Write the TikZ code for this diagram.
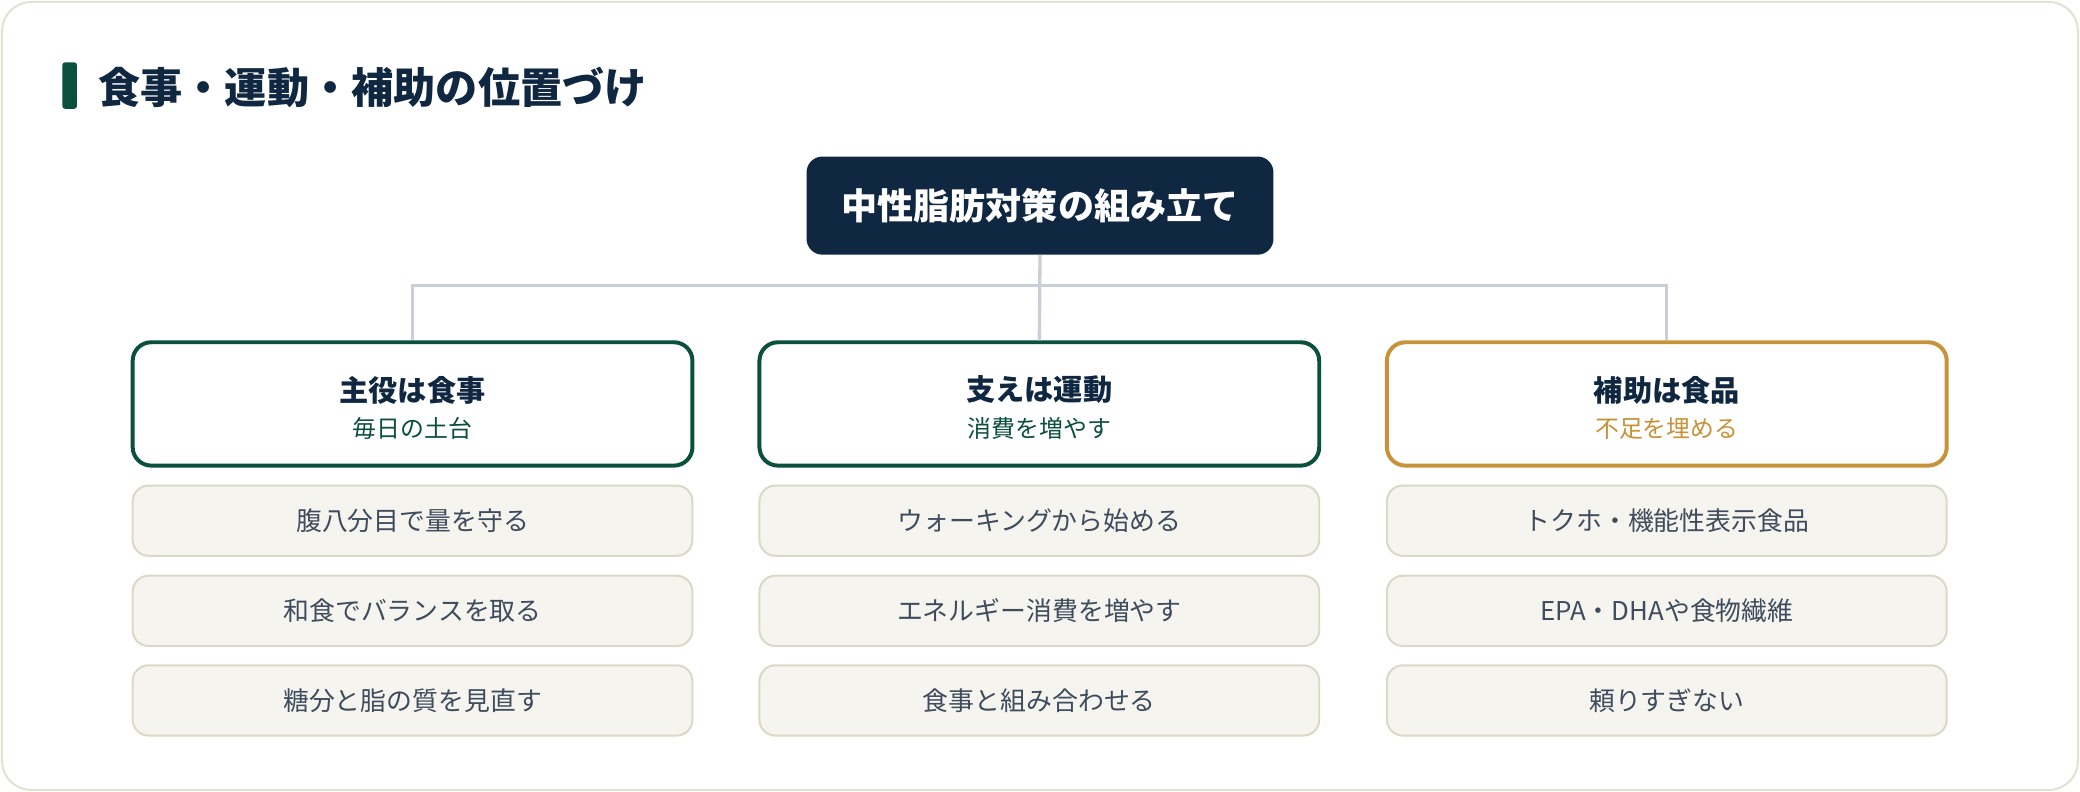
\documentclass[tikz,border=0pt]{standalone}
\usepackage{fontspec}
\setmainfont{Noto Sans CJK JP}
\definecolor{navy}{HTML}{0F2740}
\definecolor{dgreen}{HTML}{0B4F3D}
\definecolor{gold}{HTML}{C6923A}
\definecolor{conncol}{HTML}{C9CFD8}
\definecolor{itemfill}{HTML}{F6F4EE}
\definecolor{itemborder}{HTML}{DCD8C6}
\definecolor{itemtext}{HTML}{3E4C5E}
\definecolor{cardborder}{HTML}{E4E1D3}
\tikzset{
  catbox/.style={draw=#1, line width=3pt, rounded corners=14pt, fill=white, minimum width=422pt, minimum height=93pt, inner sep=0pt},
  itembox/.style={draw=itemborder, line width=1.5pt, rounded corners=12pt, fill=itemfill, minimum width=422pt, minimum height=53pt, inner sep=0pt, text=itemtext, font=\fontsize{19.5}{22}\selectfont},
  cattitle/.style={text=navy, font=\fontsize{22}{26}\selectfont\bfseries, inner sep=0pt},
  catsub/.style={text=#1, font=\fontsize{18}{21}\selectfont, inner sep=0pt},
  conn/.style={draw=conncol, line width=2.5pt}
}
\begin{document}
\begin{tikzpicture}[x=1pt,y=-1pt]
\useasboundingbox (0,0) rectangle (1568,597);
\fill[white] (0,0) rectangle (1568,597);
\draw[cardborder, line width=1.5pt, fill=white, rounded corners=22pt] (1.5,1.5) rectangle (1566.5,595.5);
% title
\fill[dgreen, rounded corners=2pt] (47,47) rectangle (58,82);
\node[anchor=west, text=navy, font=\fontsize{31.8}{36}\selectfont\bfseries, inner sep=0pt] (title) at (74,66) {食事・運動・補助の位置づけ};
% root
\node[fill=navy, rounded corners=12pt, minimum width=352pt, minimum height=74pt, text=white, font=\fontsize{27.2}{31}\selectfont\bfseries, inner sep=0pt] (root) at (784,155) {中性脂肪対策の組み立て};
% categories
\node[catbox=dgreen] (c1) at (311,304.5) {};
\node[catbox=dgreen] (c2) at (783.5,304.5) {};
\node[catbox=gold] (c3) at (1256.5,304.5) {};
\coordinate (bus) at (784,215);
\draw[conn] (c1.north) -- (c1.north |- bus) -- (c3.north |- bus) -- (c3.north);
\draw[conn] (root.south) -- (c2.north);
\node[cattitle] (t1) at (311,294) {主役は食事};
\node[catsub=dgreen] (s1) at (311,323) {毎日の土台};
\node[cattitle] (t2) at (783.5,294) {支えは運動};
\node[catsub=dgreen] (s2) at (783.5,323) {消費を増やす};
\node[cattitle] (t3) at (1256.5,294) {補助は食品};
\node[catsub=gold] (s3) at (1256.5,323) {不足を埋める};
% items
\node[itembox] (i11) at (311,392.5) {腹八分目で量を守る};
\node[itembox] (i12) at (311,460.5) {和食でバランスを取る};
\node[itembox] (i13) at (311,528) {糖分と脂の質を見直す};
\node[itembox] (i21) at (783.5,392.5) {ウォーキングから始める};
\node[itembox] (i22) at (783.5,460.5) {エネルギー消費を増やす};
\node[itembox] (i23) at (783.5,528) {食事と組み合わせる};
\node[itembox] (i31) at (1256.5,392.5) {トクホ・機能性表示食品};
\node[itembox] (i32) at (1256.5,460.5) {EPA・DHAや食物繊維};
\node[itembox] (i33) at (1256.5,528) {頼りすぎない};
\end{tikzpicture}
\end{document}
